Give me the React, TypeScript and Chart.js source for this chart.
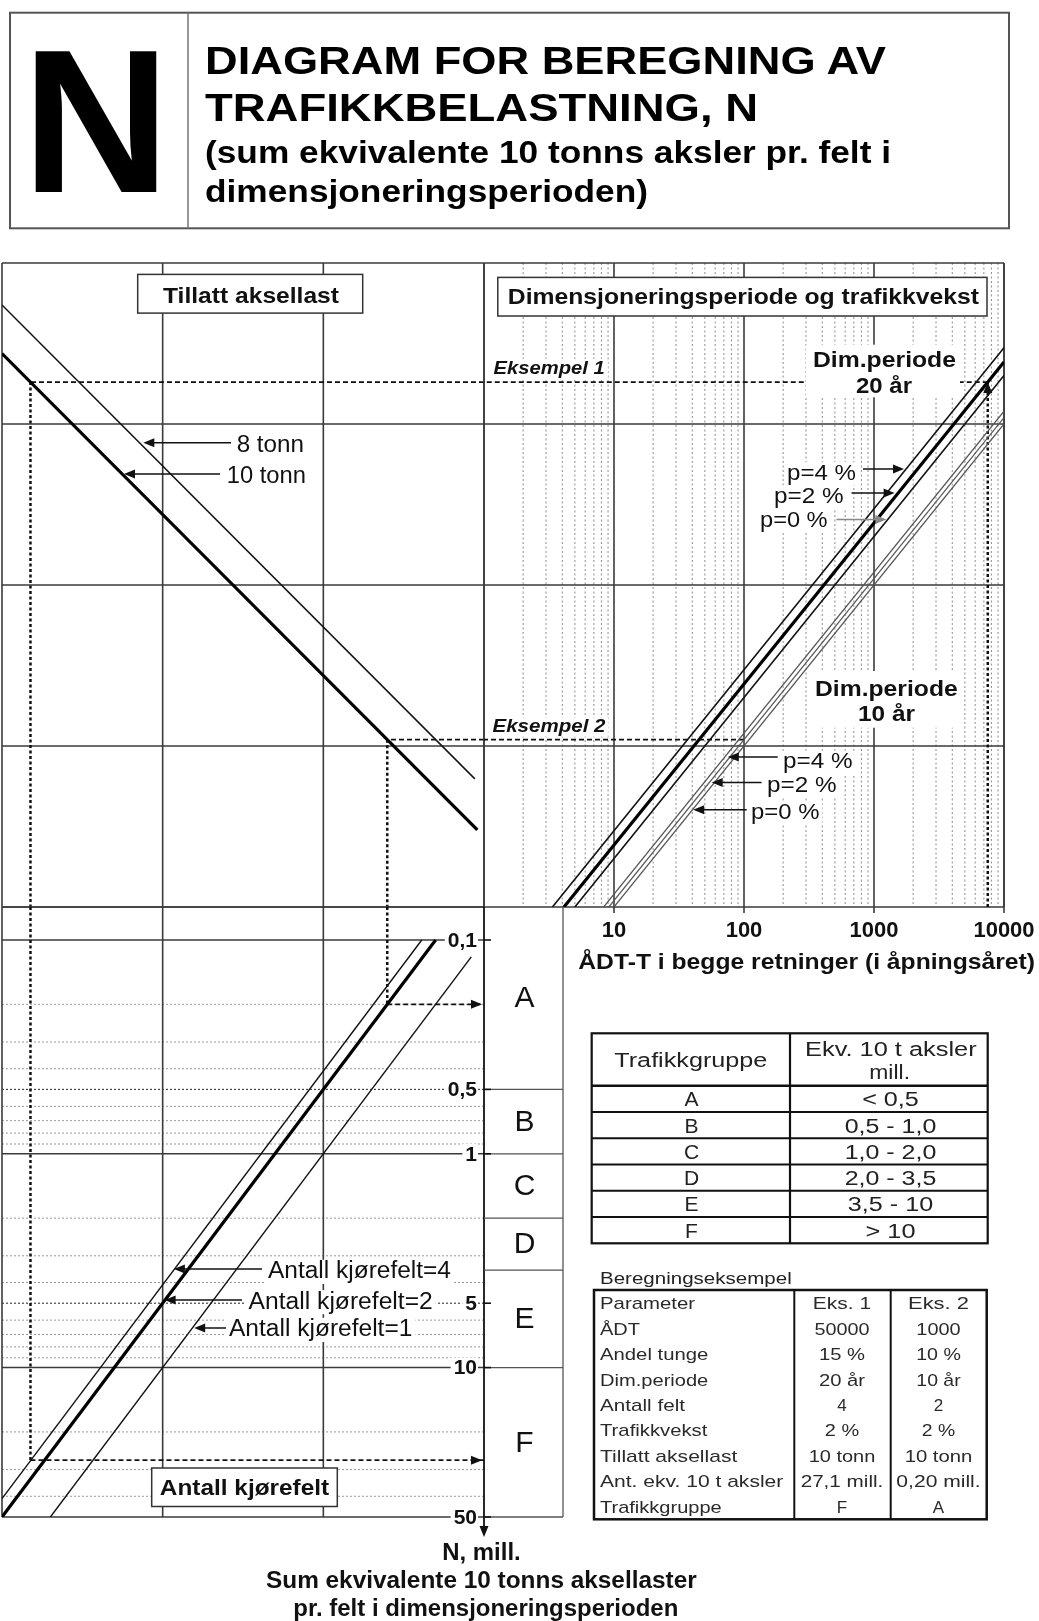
import React, { useEffect, useRef } from "react";
import { Chart, registerables } from "chart.js";

Chart.register(...registerables);

// ================= DATA =================
// Upper right panel: x = ÅDT-T (both directions, opening year), y = ÅDT-T × Σ growth factor
const ADT_RANGE = [1, 10000];
const ADT_TICKS = [10, 100, 1000, 10000];
const ADT_TICK_LABELS = ["10", "100", "1000", "10000"];
const ADT_MINOR = [2, 3, 4, 5, 6, 7, 8, 9, 20, 30, 40, 50, 60, 70, 80, 90, 200, 300, 400, 500, 600, 700, 800, 900, 2000, 3000, 4000, 5000, 6000, 7000, 8000, 9000];
const SUM_RANGE = [100, 1000000];
const SUM_GRID = [1000, 10000, 100000];

// Left panels: x = equivalent 10 t axles per lane (mill.), increasing to the left
const AXLE_RANGE = [0.1, 100];
const AXLE_GRID = [1, 10];

// Lower left panel: y = N, mill. (increasing downward)
const N_RANGE = [0.0701, 50];
const N_GRID = [0.1, 1, 10];
const N_MINOR = [0.2, 0.3, 0.4, 0.6, 0.7, 0.8, 0.9, 2, 3, 4, 6, 7, 8, 9, 20, 30, 40];
const N_MINOR_DARK = [0.5, 5];
const N_TICKS = [0.1, 0.5, 1, 5, 10, 50];
const N_TICK_LABELS = ["0,1", "0,5", "1", "5", "10", "50"];
const GROUP_LIMITS = [0.5, 1, 2, 3.5, 10];
const GROUP_LETTERS = ["A", "B", "C", "D", "E", "F"];

// Dimensjoneringsperiode og trafikkvekst: [ÅDT-T, ÅDT-T×Σ]
const DIM20_P4 = [[3.36, 100], [10000, 297800]];
const DIM20_P2 = [[4.12, 100], [10000, 243000]];
const DIM20_P0 = [[5, 100], [10000, 200000]];
const DIM10_P4 = [[8.33, 100], [10000, 120100]];
const DIM10_P2 = [[9.13, 100], [10000, 109500]];
const DIM10_P0 = [[10, 100], [10000, 100000]];

// Tillatt aksellast: [aksler mill., ÅDT-T×Σ]
const LOAD_8T = [[100, 547950], [0.114, 625]];
const LOAD_10T = [[100, 273970], [0.11, 301]];

// Antall kjørefelt: [aksler mill., N mill.]
const LANES_4 = [[0.244, 0.1], [100, 41]];
const LANES_2 = [[0.2, 0.1], [100, 50]];
const LANES_1 = [[0.12, 0.12], [50, 50]];

// Eksempel: [ÅDT-T, ÅDT-T×Σ, aksler mill., N mill.]
const EKS1 = [7500, 182250, 66.5, 27.1];
const EKS2 = [100, 1095, 0.4, 0.2];

// Tables
const GROUP_RANGES = ["< 0,5", "0,5 - 1,0", "1,0 - 2,0", "2,0 - 3,5", "3,5 - 10", "> 10"];
const CALC_HEAD = ["Parameter", "Eks. 1", "Eks. 2"];
const CALC_PARAMS = ["ÅDT", "Andel tunge", "Dim.periode", "Antall felt", "Trafikkvekst", "Tillatt aksellast", "Ant. ekv. 10 t aksler", "Trafikkgruppe"];
const CALC_EKS1 = ["50000", "15 %", "20 år", "4", "2 %", "10 tonn", "27,1 mill.", "F"];
const CALC_EKS2 = ["1000", "10 %", "10 år", "2", "2 %", "10 tonn", "0,20 mill.", "A"];

// ================= STYLE / LAYOUT =================
const FONT = "'Liberation Sans', Arial, Helvetica, sans-serif";
const GRID = "#3a3a3a";
const RANGE_W = [56.7, 91.7, 91.7, 91.7, 85.3, 50];
const PARAM_W = [95, 40, 108.3, 108.3, 85, 107.3, 137.3, 183.3, 121.7];
const EKS1_W = [58.3, 55, 46, 46, 0, 34.3, 66.7, 82.7, 0];
const EKS2_W = [61, 44.3, 44.7, 44.3, 0, 33.3, 67.7, 84.3, 0];

type Pair = number[];
const toPts = (arr: Pair[]) => arr.map(([x, y]) => ({ x, y }));

function lineDs(arr: Pair[], color: string, width: number, dash: number[] = []) {
  return {
    data: toPts(arr),
    showLine: true,
    borderColor: color,
    backgroundColor: color,
    borderWidth: width,
    borderDash: dash,
    borderCapStyle: "butt",
    pointRadius: 0,
    pointHoverRadius: 0,
    pointHitRadius: 0,
    fill: false,
    tension: 0,
  };
}

const DASH = [5, 3];
const DOT = [3, 2.5];

function seg(ctx: any, x1: number, y1: number, x2: number, y2: number, color: string, w: number, dash: number[] = []) {
  ctx.save();
  ctx.beginPath();
  ctx.strokeStyle = color;
  ctx.lineWidth = w;
  ctx.setLineDash(dash);
  ctx.moveTo(x1, y1);
  ctx.lineTo(x2, y2);
  ctx.stroke();
  ctx.restore();
}

function head(ctx: any, x: number, y: number, dir: string, color = "#111", len = 11, half = 4.5) {
  ctx.save();
  ctx.fillStyle = color;
  ctx.beginPath();
  ctx.moveTo(x, y);
  if (dir === "right") { ctx.lineTo(x - len, y - half); ctx.lineTo(x - len, y + half); }
  if (dir === "left") { ctx.lineTo(x + len, y - half); ctx.lineTo(x + len, y + half); }
  if (dir === "up") { ctx.lineTo(x - half, y + len); ctx.lineTo(x + half, y + len); }
  if (dir === "down") { ctx.lineTo(x - half, y - len); ctx.lineTo(x + half, y - len); }
  ctx.closePath();
  ctx.fill();
  ctx.restore();
}

function border(ctx: any, a: any) {
  seg(ctx, a.left, a.top, a.right, a.top, GRID, 1.6);
  seg(ctx, a.left, a.bottom, a.right, a.bottom, GRID, 1.6);
  seg(ctx, a.left, a.top, a.left, a.bottom, GRID, 1.6);
  seg(ctx, a.right, a.top, a.right, a.bottom, GRID, 1.6);
}

// ---------- panel definitions ----------
const UL = {
  left: 0, top: 256, width: 490, height: 658,
  padding: { left: 2, top: 7, right: 6, bottom: 7 },
  x: { type: "logarithmic", min: AXLE_RANGE[0], max: AXLE_RANGE[1], reverse: true },
  y: { type: "logarithmic", min: SUM_RANGE[0], max: SUM_RANGE[1] },
  datasets: [
    lineDs(LOAD_8T, "#111", 1.5),
    lineDs(LOAD_10T, "#000", 3.2),
    lineDs([[AXLE_RANGE[0], EKS1[1]], [EKS1[2], EKS1[1]]], "#111", 1.8, DASH),
    lineDs([[EKS1[2], EKS1[1]], [EKS1[2], SUM_RANGE[0]]], "#111", 2.5, DOT),
    lineDs([[AXLE_RANGE[0], EKS2[1]], [EKS2[2], EKS2[1]]], "#111", 1.8, DASH),
    lineDs([[EKS2[2], EKS2[1]], [EKS2[2], SUM_RANGE[0]]], "#111", 2.5, DOT),
  ],
  before: (c: any) => {
    const { ctx, chartArea: a, scales } = c;
    AXLE_GRID.forEach((v) => { const px = scales.x.getPixelForValue(v); seg(ctx, px, a.top, px, a.bottom, GRID, 1.6); });
    SUM_GRID.forEach((v) => { const py = scales.y.getPixelForValue(v); seg(ctx, a.left, py, a.right, py, GRID, 1.6); });
    border(ctx, a);
  },
  after: (_c: any) => {},
};

const UR = {
  left: 478, top: 256, width: 561, height: 700,
  padding: { left: 6, top: 7, right: 35, bottom: 49 },
  x: { type: "logarithmic", min: ADT_RANGE[0], max: ADT_RANGE[1] },
  y: { type: "logarithmic", min: SUM_RANGE[0], max: SUM_RANGE[1] },
  datasets: [
    lineDs(DIM20_P4, "#111", 1.6),
    lineDs(DIM20_P2, "#000", 3.2),
    lineDs(DIM20_P0, "#111", 1.6),
    lineDs(DIM10_P4, "#555", 1.2),
    lineDs(DIM10_P2, "#555", 1.2),
    lineDs(DIM10_P0, "#555", 1.2),
    lineDs([[EKS1[0], SUM_RANGE[0]], [EKS1[0], EKS1[1]]], "#111", 2.5, DOT),
    lineDs([[EKS1[0], EKS1[1]], [ADT_RANGE[0], EKS1[1]]], "#111", 1.8, DASH),
    lineDs([[EKS2[0], EKS2[1]], [ADT_RANGE[0], EKS2[1]]], "#111", 1.8, DASH),
  ],
  before: (c: any) => {
    const { ctx, chartArea: a, scales } = c;
    ADT_MINOR.forEach((v) => { const px = scales.x.getPixelForValue(v); seg(ctx, px, a.top, px, a.bottom, "#8c8c8c", 1, [2, 2.5]); });
    ADT_TICKS.forEach((v) => { const px = scales.x.getPixelForValue(v); seg(ctx, px, a.top, px, a.bottom, GRID, 1.6); });
    SUM_GRID.forEach((v) => { const py = scales.y.getPixelForValue(v); seg(ctx, a.left, py, a.right, py, GRID, 1.6); });
    border(ctx, a);
  },
  after: (c: any) => {
    const { ctx, chartArea: a, scales } = c;
    head(ctx, scales.x.getPixelForValue(EKS1[0]), scales.y.getPixelForValue(EKS1[1]), "up");
    ctx.save();
    ctx.font = `bold 22px ${FONT}`;
    ctx.fillStyle = "#111";
    ctx.textAlign = "center";
    ctx.textBaseline = "middle";
    ADT_TICKS.forEach((v, i) => {
      const px = scales.x.getPixelForValue(v);
      seg(ctx, px, a.bottom, px, a.bottom + 6, GRID, 1.6);
      ctx.fillText(ADT_TICK_LABELS[i], px, a.bottom + 24);
    });
    ctx.restore();
  },
};

const LL = {
  left: 0, top: 901, width: 570, height: 645,
  padding: { left: 2, top: 6, right: 86, bottom: 29 },
  x: { type: "logarithmic", min: AXLE_RANGE[0], max: AXLE_RANGE[1], reverse: true },
  y: { type: "logarithmic", min: N_RANGE[0], max: N_RANGE[1], reverse: true },
  datasets: [
    lineDs(LANES_4, "#111", 1.4),
    lineDs(LANES_2, "#000", 3.2),
    lineDs(LANES_1, "#111", 1.4),
    lineDs([[EKS1[2], N_RANGE[0]], [EKS1[2], EKS1[3]]], "#111", 2.5, DOT),
    lineDs([[EKS1[2], EKS1[3]], [AXLE_RANGE[0], EKS1[3]]], "#111", 1.8, DASH),
    lineDs([[EKS2[2], N_RANGE[0]], [EKS2[2], EKS2[3]]], "#111", 2.5, DOT),
    lineDs([[EKS2[2], EKS2[3]], [AXLE_RANGE[0], EKS2[3]]], "#111", 1.8, DASH),
  ],
  before: (c: any) => {
    const { ctx, chartArea: a, scales } = c;
    N_MINOR.forEach((v) => { const py = scales.y.getPixelForValue(v); seg(ctx, a.left, py, a.right, py, "#999", 1, [2, 2]); });
    N_MINOR_DARK.forEach((v) => { const py = scales.y.getPixelForValue(v); seg(ctx, a.left, py, a.right, py, "#444", 1.2, [2, 2]); });
    N_GRID.forEach((v) => { const py = scales.y.getPixelForValue(v); seg(ctx, a.left, py, a.right, py, GRID, 1.6); });
    AXLE_GRID.forEach((v) => { const px = scales.x.getPixelForValue(v); seg(ctx, px, a.top, px, a.bottom, GRID, 1.6); });
    seg(ctx, a.left, a.top, a.right, a.top, GRID, 1.6);
    seg(ctx, a.left, a.bottom, a.right, a.bottom, GRID, 1.6);
    seg(ctx, a.left, a.top, a.left, a.bottom, GRID, 1.6);
  },
  after: (c: any) => {
    const { ctx, chartArea: a, scales } = c;
    const y = scales.y;
    // N axis with arrow
    seg(ctx, a.right, a.top, a.right, a.bottom + 10, "#111", 1.8);
    head(ctx, a.right, a.bottom + 20, "down");
    // group column
    const colR = a.right + 79;
    seg(ctx, colR, a.top, colR, a.bottom, "#555", 1.3);
    [...GROUP_LIMITS, N_RANGE[1]].forEach((v) => { const py = y.getPixelForValue(v); seg(ctx, a.right, py, colR, py, "#555", 1.3); });
    const bounds = [N_RANGE[0], ...GROUP_LIMITS, N_RANGE[1]];
    ctx.save();
    ctx.font = `30px ${FONT}`;
    ctx.fillStyle = "#111";
    ctx.textAlign = "center";
    ctx.textBaseline = "middle";
    GROUP_LETTERS.forEach((g, i) => {
      const cy = (y.getPixelForValue(bounds[i]) + y.getPixelForValue(bounds[i + 1])) / 2;
      ctx.fillText(g, (a.right + colR) / 2 + 1, cy + 1);
    });
    ctx.restore();
    // ticks and labels
    ctx.save();
    ctx.font = `bold 21px ${FONT}`;
    ctx.textAlign = "right";
    ctx.textBaseline = "middle";
    N_TICKS.forEach((v, i) => {
      const py = y.getPixelForValue(v);
      const tw = ctx.measureText(N_TICK_LABELS[i]).width;
      ctx.fillStyle = "#fff";
      ctx.fillRect(a.right - 7 - tw - 3, py - 10, tw + 4, 20);
      ctx.fillStyle = "#111";
      ctx.fillText(N_TICK_LABELS[i], a.right - 7, py + 1);
      seg(ctx, a.right, py, a.right + 7, py, "#111", 1.6);
    });
    ctx.restore();
    // example arrows into N axis
    head(ctx, a.right - 2, y.getPixelForValue(EKS1[3]), "right");
    head(ctx, a.right - 2, y.getPixelForValue(EKS2[3]), "right");
  },
};

function Panel(p: any) {
  const ref = useRef<HTMLCanvasElement>(null);
  useEffect(() => {
    if (!ref.current) return;
    const chart = new Chart(ref.current, {
      type: "scatter",
      data: { datasets: p.datasets },
      options: {
        animation: false,
        responsive: false,
        maintainAspectRatio: false,
        devicePixelRatio: 1,
        events: [],
        layout: { padding: p.padding },
        plugins: { legend: { display: false }, tooltip: { enabled: false } },
        scales: { x: { ...p.x, display: false }, y: { ...p.y, display: false } },
      } as any,
      plugins: [{ id: "nomo", beforeDatasetsDraw: (c: any) => p.before(c), afterDatasetsDraw: (c: any) => p.after(c) }],
    } as any);
    return () => chart.destroy();
  }, []);
  return (
    <canvas
      ref={ref}
      width={p.width}
      height={p.height}
      style={{ position: "absolute", left: p.left, top: p.top, width: p.width, height: p.height }}
    />
  );
}

type TP = { x: number; y: number; w?: number; fs: number; b?: boolean; i?: boolean; bg?: boolean; fill?: string; anchor?: string; children: React.ReactNode };
function Txt({ x, y, w, fs, b, i, bg, fill = "#111", anchor = "start", children }: TP) {
  const extra: any = {};
  if (w) { extra.textLength = w; extra.lengthAdjust = "spacingAndGlyphs"; }
  return (
    <g>
      {bg && w ? <rect x={x - 3} y={y - fs * 0.8} width={w + 6} height={fs * 1.05} fill="#fff" /> : null}
      <text x={x} y={y} fontSize={fs} fontWeight={b ? 700 : 400} fontStyle={i ? "italic" : "normal"} fill={fill} textAnchor={anchor} fontFamily={FONT} {...extra}>
        {children}
      </text>
    </g>
  );
}

function Arrow({ x1, x2, y, color = "#111" }: { x1: number; x2: number; y: number; color?: string }) {
  const d = x2 < x1 ? -1 : 1;
  return (
    <g>
      <line x1={x1} y1={y} x2={x2 - d * 8} y2={y} stroke={color} strokeWidth={1.5} />
      <polygon points={`${x2},${y} ${x2 - d * 11},${y - 4.5} ${x2 - d * 11},${y + 4.5}`} fill={color} />
    </g>
  );
}

function Overlay() {
  const t1Top = 1085.7, t1Row = 26.27;
  const t2Top = 1303.3, t2Row = 25.43;
  const c2 = 842, c3 = 938.5;
  return (
    <svg width={1039} height={1621} style={{ position: "absolute", left: 0, top: 0, pointerEvents: "none" }}>
      {/* header */}
      <rect x={10} y={12.7} width={999} height={215.6} fill="none" stroke="#555" strokeWidth={2} />
      <line x1={188} y1={12.7} x2={188} y2={228.3} stroke="#777" strokeWidth={1.5} />
      <Txt x={96} y={191.5} fs={205} b anchor="middle" fill="#000">N</Txt>
      <Txt x={205} y={74} w={681} fs={38} b fill="#000">DIAGRAM FOR BEREGNING AV</Txt>
      <Txt x={205} y={120.5} w={553} fs={38} b fill="#000">TRAFIKKBELASTNING, N</Txt>
      <Txt x={205} y={162.5} w={686} fs={31} b fill="#000">(sum ekvivalente 10 tonns aksler pr. felt i</Txt>
      <Txt x={205} y={202} w={443} fs={31} b fill="#000">dimensjoneringsperioden)</Txt>

      {/* upper left */}
      <rect x={137.7} y={274.4} width={225} height={38.7} fill="#fff" stroke="#333" strokeWidth={1.5} />
      <Txt x={163} y={302.5} w={176} fs={22} b>Tillatt aksellast</Txt>
      <Txt x={236.7} y={451.6} w={67.3} fs={23} bg>8 tonn</Txt>
      <Arrow x1={231} x2={143.3} y={442.8} />
      <Txt x={226.7} y={482.5} w={79.3} fs={23} bg>10 tonn</Txt>
      <Arrow x1={220} x2={124} y={474} />

      {/* upper right */}
      <rect x={497.8} y={277.4} width={489.2} height={38.6} fill="#fff" stroke="#333" strokeWidth={1.5} />
      <Txt x={507.8} y={304.4} w={471.2} fs={22} b>Dimensjoneringsperiode og trafikkvekst</Txt>
      <Txt x={493.5} y={373.5} w={111.3} fs={18} b i bg>Eksempel 1</Txt>
      <rect x={806} y={344.7} width={154} height={52.6} fill="#fff" />
      <Txt x={813} y={366.5} w={143} fs={22} b>Dim.periode</Txt>
      <Txt x={856} y={393.4} w={56} fs={22} b>20 år</Txt>
      <Txt x={787} y={479.7} w={69} fs={22} bg>p=4 %</Txt>
      <Arrow x1={863} x2={904} y={469} />
      <Txt x={774} y={503} w={69.6} fs={22} bg>p=2 %</Txt>
      <Arrow x1={851.5} x2={894.6} y={493} />
      <Txt x={760} y={527.3} w={67.6} fs={22} bg>p=0 %</Txt>
      <Arrow x1={836.5} x2={886.4} y={519.4} color="#888" />
      <rect x={811.5} y={671} width={148} height={56.7} fill="#fff" />
      <Txt x={815} y={695.6} w={142.7} fs={22} b>Dim.periode</Txt>
      <Txt x={858} y={721} w={57} fs={22} b>10 år</Txt>
      <Txt x={492.5} y={732.1} w={113} fs={18} b i bg>Eksempel 2</Txt>
      <Txt x={783} y={768.4} w={69.5} fs={22} bg>p=4 %</Txt>
      <Arrow x1={777.7} x2={727.8} y={757} />
      <Txt x={767} y={792.4} w={69.5} fs={22} bg>p=2 %</Txt>
      <Arrow x1={761.6} x2={711.7} y={782.4} />
      <Txt x={751} y={819} w={68.4} fs={22} bg>p=0 %</Txt>
      <Arrow x1={746.7} x2={693.2} y={809.8} />
      <Txt x={578.3} y={968.6} w={456.7} fs={22} b>ÅDT-T i begge retninger (i åpningsåret)</Txt>

      {/* lower left */}
      <Txt x={268} y={1278.2} w={183} fs={23} bg>Antall kjørefelt=4</Txt>
      <Arrow x1={262} x2={173.9} y={1269} />
      <Txt x={248.6} y={1308.5} w={184.2} fs={23} bg>Antall kjørefelt=2</Txt>
      <Arrow x1={242} x2={164.6} y={1300} />
      <Txt x={229} y={1336.2} w={183.4} fs={23} bg>Antall kjørefelt=1</Txt>
      <Arrow x1={226} x2={194.2} y={1328} />
      <rect x={151.7} y={1468} width={185.6} height={38.5} fill="#fff" stroke="#333" strokeWidth={1.5} />
      <Txt x={159.8} y={1495} w={169.4} fs={22} b>Antall kjørefelt</Txt>
      <Txt x={442.3} y={1560} w={78.4} fs={23} b>N, mill.</Txt>
      <Txt x={266} y={1588.3} w={430.7} fs={23} b>Sum ekvivalente 10 tonns aksellaster</Txt>
      <Txt x={293.3} y={1615.5} w={385} fs={23} b>pr. felt i dimensjoneringsperioden</Txt>

      {/* table 1 */}
      <rect x={591.7} y={1033.3} width={396} height={210} fill="#fff" stroke="#111" strokeWidth={2.2} />
      <line x1={790} y1={1033.3} x2={790} y2={1243.3} stroke="#111" strokeWidth={2.2} />
      <line x1={591.7} y1={t1Top} x2={987.7} y2={t1Top} stroke="#111" strokeWidth={2.6} />
      {GROUP_LETTERS.slice(1).map((_, k) => (
        <line key={k} x1={591.7} y1={t1Top + t1Row * (k + 1)} x2={987.7} y2={t1Top + t1Row * (k + 1)} stroke="#111" strokeWidth={2} />
      ))}
      <Txt x={614.3} y={1067} w={153} fs={20} fill="#222">Trafikkgruppe</Txt>
      <Txt x={805} y={1055.5} w={171.7} fs={20} fill="#222">Ekv. 10 t aksler</Txt>
      <Txt x={869.3} y={1079} w={40.7} fs={20} fill="#222">mill.</Txt>
      {GROUP_LETTERS.map((g, k) => (
        <Txt key={"g" + k} x={691.5} y={t1Top + t1Row * (k + 0.5) + 7.5} fs={21} anchor="middle" fill="#222">{g}</Txt>
      ))}
      {GROUP_RANGES.map((r, k) => (
        <Txt key={"r" + k} x={890.5 - RANGE_W[k] / 2} y={t1Top + t1Row * (k + 0.5) + 7.5} w={RANGE_W[k]} fs={20} fill="#222">{r}</Txt>
      ))}

      {/* table 2 */}
      <Txt x={600} y={1284.3} w={191.7} fs={17} fill="#222">Beregningseksempel</Txt>
      <rect x={594} y={1290} width={392.7} height={229.3} fill="#fff" stroke="#111" strokeWidth={2.5} />
      <line x1={794.3} y1={1290} x2={794.3} y2={1519.3} stroke="#111" strokeWidth={2} />
      <line x1={890.7} y1={1290} x2={890.7} y2={1519.3} stroke="#111" strokeWidth={2} />
      {[CALC_HEAD[0], ...CALC_PARAMS].map((s, k) => (
        <Txt key={"p" + k} x={600} y={t2Top + t2Row * k + 6} w={PARAM_W[k]} fs={17} fill="#2a2a2a">{s}</Txt>
      ))}
      {[CALC_HEAD[1], ...CALC_EKS1].map((s, k) =>
        EKS1_W[k] ? (
          <Txt key={"e1" + k} x={c2 - EKS1_W[k] / 2} y={t2Top + t2Row * k + 6} w={EKS1_W[k]} fs={17} fill="#2a2a2a">{s}</Txt>
        ) : (
          <Txt key={"e1" + k} x={c2} y={t2Top + t2Row * k + 6} fs={17} anchor="middle" fill="#2a2a2a">{s}</Txt>
        )
      )}
      {[CALC_HEAD[2], ...CALC_EKS2].map((s, k) =>
        EKS2_W[k] ? (
          <Txt key={"e2" + k} x={c3 - EKS2_W[k] / 2} y={t2Top + t2Row * k + 6} w={EKS2_W[k]} fs={17} fill="#2a2a2a">{s}</Txt>
        ) : (
          <Txt key={"e2" + k} x={c3} y={t2Top + t2Row * k + 6} fs={17} anchor="middle" fill="#2a2a2a">{s}</Txt>
        )
      )}
    </svg>
  );
}

export default function App() {
  return (
    <div style={{ position: "absolute", left: 0, top: 0, width: 1039, height: 1621, overflow: "hidden", background: "#fff" }}>
      <Panel {...UL} />
      <Panel {...UR} />
      <Panel {...LL} />
      <Overlay />
    </div>
  );
}
